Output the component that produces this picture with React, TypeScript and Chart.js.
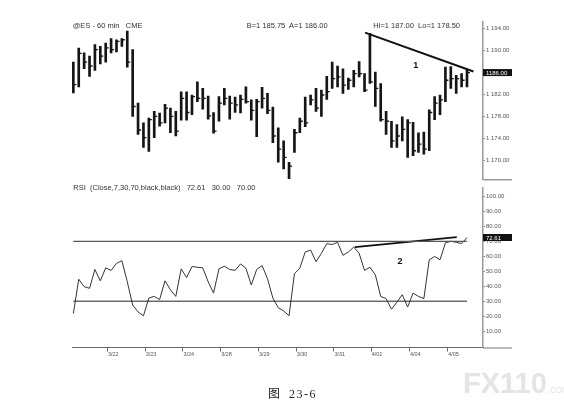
import React, { useEffect, useRef } from "react";
import { Chart, registerables } from "chart.js";
Chart.register(...registerables);

// ---- data (60-min ES bars, index 0..73) ----
const HIGHS = [
  1187.9, 1190.5, 1189.6, 1189.0, 1191.1, 1190.8, 1191.4, 1192.2, 1192.0, 1192.2,
  1193.6, 1190.2, 1180.4, 1176.8, 1177.7, 1178.9, 1178.6, 1180.2, 1179.5, 1178.9,
  1182.5, 1182.5, 1181.9, 1184.3, 1183.1, 1181.7, 1178.7, 1181.6, 1183.1, 1181.7,
  1181.5, 1181.9, 1183.4, 1181.0, 1181.1, 1183.3, 1182.2, 1179.7, 1175.9, 1173.5,
  1169.6, 1175.6, 1177.7, 1181.5, 1181.9, 1183.1, 1182.8, 1185.3, 1187.9, 1187.2,
  1186.7, 1185.0, 1186.4, 1188.0, 1185.8, 1193.2, 1186.1, 1184.0, 1178.9, 1177.1,
  1176.5, 1177.9, 1177.4, 1176.9, 1175.0, 1175.1, 1179.2, 1181.6, 1181.9, 1187.0,
  1187.1, 1185.5, 1185.8, 1186.4,
];
const LOWS = [
  1182.3, 1183.4, 1186.7, 1185.3, 1186.4, 1187.6, 1187.9, 1189.6, 1189.8, 1190.8,
  1187.0, 1178.0, 1174.7, 1172.3, 1171.6, 1174.1, 1176.2, 1176.8, 1175.0, 1174.4,
  1177.3, 1177.3, 1178.3, 1180.7, 1179.3, 1177.5, 1174.9, 1177.1, 1180.1, 1177.5,
  1178.7, 1178.6, 1180.4, 1177.3, 1174.3, 1179.5, 1178.5, 1173.2, 1169.6, 1168.4,
  1166.6, 1171.4, 1175.0, 1176.1, 1180.1, 1178.9, 1178.0, 1181.1, 1183.1, 1183.4,
  1182.2, 1182.9, 1183.4, 1185.2, 1182.5, 1184.0, 1179.8, 1177.1, 1174.7, 1172.3,
  1172.3, 1173.5, 1170.5, 1170.8, 1171.4, 1171.1, 1171.7, 1177.4, 1178.3, 1180.7,
  1183.1, 1182.2, 1183.4, 1183.4,
];
const CLOSES = [
  1183.8, 1189.5, 1187.9, 1187.2, 1190.2, 1189.0, 1190.5, 1190.2, 1191.7, 1192.0,
  1187.9, 1179.8, 1175.5, 1174.1, 1177.4, 1178.0, 1176.8, 1179.5, 1178.0, 1175.3,
  1181.3, 1178.7, 1181.6, 1181.3, 1181.3, 1178.1, 1175.3, 1180.4, 1181.3, 1180.4,
  1180.1, 1181.1, 1180.7, 1179.1, 1180.7, 1181.3, 1179.1, 1174.4, 1172.0, 1170.5,
  1168.9, 1175.0, 1177.1, 1176.8, 1181.0, 1179.5, 1181.9, 1182.5, 1184.9, 1185.2,
  1183.7, 1184.6, 1185.8, 1185.8, 1182.8, 1184.3, 1183.1, 1177.4, 1177.1, 1173.5,
  1174.4, 1175.6, 1176.8, 1171.7, 1172.9, 1172.0, 1178.7, 1180.4, 1181.0, 1184.6,
  1184.9, 1184.9, 1184.6, 1186.0,
];
const RSI = [
  21.7, 44.7, 39.7, 38.6, 51.2, 43.6, 52.3, 50.6, 55.3, 57.1,
  43.0, 27.4, 22.8, 20.2, 32.1, 33.2, 31.1, 43.6, 37.6, 33.2,
  51.6, 45.8, 53.2, 52.7, 52.3, 43.0, 35.4, 51.6, 53.4, 51.2,
  50.6, 54.9, 52.1, 40.8, 51.2, 53.8, 45.1, 32.1, 25.6, 23.5,
  20.2, 48.4, 52.1, 62.9, 64.2, 56.4, 62.0, 68.5, 67.9, 69.4,
  60.7, 62.9, 66.2, 62.0, 50.6, 52.7, 47.7, 33.2, 31.7, 24.6,
  29.3, 34.3, 26.1, 35.4, 33.2, 31.7, 57.7, 59.9, 57.7, 69.0,
  70.1, 69.4, 68.5, 72.61,
];
const DAY_LABELS = ["3/22", "3/23", "3/24", "3/28", "3/29", "3/30", "3/31", "4/01", "4/04", "4/05"];
const DAY_TICKS = [6.3, 13.3, 20.3, 27.3, 34.3, 41.3, 48.3, 55.2, 62.3, 69.4];
const PRICE_TICKS = [1170, 1174, 1178, 1182, 1186, 1190, 1194];
const RSI_TICKS = [10, 20, 30, 40, 50, 60, 70, 80, 90, 100];
const RSI_LEVELS = [30, 70];
const TREND1_X = [54.1, 74.2];
const TREND1_Y = [1193.3, 1186.2];
const TREND2_X = [52.2, 71.1];
const TREND2_Y = [66.2, 72.9];
const LABEL1 = { text: "1", x: 63.5, y: 1187.25 };
const LABEL2 = { text: "2", x: 60.6, y: 56.6 };
const LAST_PRICE = 1186.0;
const LAST_RSI = 72.61;
const X_MIN = -0.25;
const X_MAX = 75.97;
const PRICE_MIN = 1166.41;
const PRICE_MAX = 1195.25;
const RSI_MIN = -1;
const RSI_MAX = 106;

const FONT = "Arial, 'Liberation Sans', sans-serif";
const AXIS_W = 81;

function fmtPrice(v: number): string {
  const s = v.toFixed(2);
  const [i, d] = s.split(".");
  return i.length > 3 ? i.slice(0, -3) + " " + i.slice(-3) + "." + d : s;
}

const idx = CLOSES.map((_, i) => i);

function yAxis(min: number, max: number, ticks: number[], fmt: (v: number) => string) {
  return {
    position: "right" as const,
    min,
    max,
    afterBuildTicks: (s: any) => {
      s.ticks = ticks.map((v) => ({ value: v }));
    },
    afterFit: (s: any) => {
      s.width = AXIS_W;
    },
    grid: { drawOnChartArea: false, drawTicks: true, tickLength: 2, color: "#777", lineWidth: 1 },
    border: { display: true, color: "#999", width: 1.5 },
    ticks: {
      color: "#555",
      padding: 1,
      font: { size: 6, family: FONT },
      callback: (v: any) => fmt(Number(v)),
    },
  };
}

function valueBox(ctx: CanvasRenderingContext2D, left: number, y: number, text: string) {
  ctx.fillStyle = "#111";
  ctx.fillRect(left, y - 3.5, 29, 7);
  ctx.fillStyle = "#fff";
  ctx.font = `6px ${FONT}`;
  ctx.textAlign = "left";
  ctx.textBaseline = "middle";
  ctx.fillText(text, left + 3, y + 0.5);
}

const pricePlugin = {
  id: "priceExtras",
  afterDraw(chart: any) {
    const { ctx, chartArea, scales } = chart;
    ctx.save();
    ctx.strokeStyle = "#999";
    ctx.lineWidth = 1.5;
    ctx.beginPath();
    ctx.moveTo(chartArea.right, chartArea.bottom);
    ctx.lineTo(chartArea.right + 29, chartArea.bottom);
    ctx.stroke();
    valueBox(ctx, chartArea.right, scales.y.getPixelForValue(LAST_PRICE), LAST_PRICE.toFixed(2));
    ctx.fillStyle = "#111";
    ctx.font = `bold 9px ${FONT}`;
    ctx.textAlign = "center";
    ctx.textBaseline = "middle";
    ctx.fillText(LABEL1.text, scales.x.getPixelForValue(LABEL1.x), scales.y.getPixelForValue(LABEL1.y));
    ctx.restore();
  },
};

const rsiPlugin = {
  id: "rsiExtras",
  afterDraw(chart: any) {
    const { ctx, chartArea, scales } = chart;
    ctx.save();
    ctx.strokeStyle = "#777";
    ctx.lineWidth = 1;
    ctx.beginPath();
    ctx.moveTo(chartArea.right, chartArea.bottom + 0.5);
    ctx.lineTo(chartArea.right + 29, chartArea.bottom + 0.5);
    ctx.stroke();
    valueBox(ctx, chartArea.right, scales.y.getPixelForValue(LAST_RSI), LAST_RSI.toFixed(2));
    ctx.fillStyle = "#111";
    ctx.font = `bold 9px ${FONT}`;
    ctx.textAlign = "center";
    ctx.textBaseline = "middle";
    ctx.fillText(LABEL2.text, scales.x.getPixelForValue(LABEL2.x), scales.y.getPixelForValue(LABEL2.y));
    ctx.restore();
  },
};

export default function App() {
  const priceRef = useRef<HTMLCanvasElement>(null);
  const rsiRef = useRef<HTMLCanvasElement>(null);

  useEffect(() => {
    document.body.style.margin = "0";
    const price = new Chart(priceRef.current as HTMLCanvasElement, {
      type: "bar",
      data: {
        datasets: [
          {
            type: "bar",
            data: idx.map((i) => ({ x: i, y: [LOWS[i], HIGHS[i]] })) as any,
            backgroundColor: "#151515",
            barThickness: 2,
            grouped: false,
          } as any,
          {
            type: "scatter",
            data: idx.map((i) => ({ x: i, y: CLOSES[i] })),
            pointStyle: "dash",
            pointRadius: 3,
            borderColor: "#151515",
            borderWidth: 1.3,
            showLine: false,
          } as any,
          {
            type: "line",
            data: TREND1_X.map((x, k) => ({ x, y: TREND1_Y[k] })),
            borderColor: "#111",
            borderWidth: 2,
            pointRadius: 0,
          } as any,
        ],
      },
      options: {
        animation: false,
        responsive: false,
        maintainAspectRatio: false,
        layout: { padding: { left: 72, right: 0, top: 22, bottom: 2 } },
        plugins: { legend: { display: false }, tooltip: { enabled: false } },
        scales: {
          x: { type: "linear", min: X_MIN, max: X_MAX, display: false, offset: false },
          y: yAxis(PRICE_MIN, PRICE_MAX, PRICE_TICKS, fmtPrice) as any,
        },
      },
      plugins: [pricePlugin],
    });

    const rsi = new Chart(rsiRef.current as HTMLCanvasElement, {
      type: "line",
      data: {
        datasets: [
          ...RSI_LEVELS.map((lv, k) => ({
            data: [
              { x: idx[0], y: lv },
              { x: idx[idx.length - 1], y: lv },
            ],
            borderColor: k === 0 ? "#222" : "#555",
            borderWidth: k === 0 ? 1 : 1.3,
            pointRadius: 0,
          })),
          {
            data: idx.map((i) => ({ x: i, y: RSI[i] })),
            borderColor: "#333",
            borderWidth: 1,
            pointRadius: 0,
            tension: 0,
          },
          {
            data: TREND2_X.map((x, k) => ({ x, y: TREND2_Y[k] })),
            borderColor: "#111",
            borderWidth: 1.8,
            pointRadius: 0,
          },
        ] as any,
      },
      options: {
        animation: false,
        responsive: false,
        maintainAspectRatio: false,
        layout: { padding: { left: 72, right: 0, top: 0, bottom: 40 } },
        plugins: { legend: { display: false }, tooltip: { enabled: false } },
        scales: {
          x: {
            type: "linear",
            min: X_MIN,
            max: X_MAX,
            offset: false,
            afterBuildTicks: (s: any) => {
              s.ticks = DAY_TICKS.map((v) => ({ value: v }));
            },
            afterFit: (s: any) => {
              s.height = 14.5;
            },
            grid: { drawOnChartArea: false, drawTicks: true, tickLength: 4, color: "#666" },
            border: { display: true, color: "#666", width: 1 },
            ticks: {
              autoSkip: false,
              maxRotation: 0,
              padding: 0,
              labelOffset: 6,
              color: "#555",
              font: { size: 5.5, family: FONT },
              callback: (v: any) => {
                const k = DAY_TICKS.indexOf(Number(v));
                return k >= 0 ? DAY_LABELS[k] : "";
              },
            },
          },
          y: yAxis(RSI_MIN, RSI_MAX, RSI_TICKS, (v) => v.toFixed(2)) as any,
        },
      },
      plugins: [rsiPlugin],
    });

    return () => {
      price.destroy();
      rsi.destroy();
    };
  }, []);

  const txt: React.CSSProperties = {
    position: "absolute",
    fontFamily: FONT,
    fontSize: 7.5,
    lineHeight: "8px",
    color: "#333",
    whiteSpace: "pre",
  };

  return (
    <div style={{ position: "relative", width: 564, height: 402, background: "#fff", overflow: "hidden" }}>
      <canvas ref={priceRef} width={564} height={185} style={{ position: "absolute", left: 0, top: 0 }} />
      <canvas ref={rsiRef} width={564} height={219} style={{ position: "absolute", left: 0, top: 183 }} />
      <div style={{ ...txt, left: 72.7, top: 21.7 }}>{"@ES - 60 min   CME"}</div>
      <div style={{ ...txt, left: 246.7, top: 21.7 }}>{"B=1 185.75  A=1 186.00"}</div>
      <div style={{ ...txt, left: 373.3, top: 21.7 }}>{"Hi=1 187.00  Lo=1 178.50"}</div>
      <div style={{ ...txt, left: 73.3, top: 184.3 }}>{"RSI  (Close,7,30,70,black,black)   72.61   30.00   70.00"}</div>
      <div
        style={{
          position: "absolute",
          left: 268,
          top: 385,
          fontFamily: "'Liberation Serif', 'Noto Sans CJK SC', serif",
          fontSize: 12,
          lineHeight: "16px",
          color: "#222",
          whiteSpace: "pre",
        }}
      >
        <span style={{ fontFamily: "'Noto Sans CJK SC', serif" }}>图</span>
        <span style={{ marginLeft: 9, letterSpacing: 1.5 }}>23-6</span>
      </div>
      <div
        style={{
          position: "absolute",
          left: 463,
          top: 368,
          fontFamily: FONT,
          fontWeight: "bold",
          fontSize: 29,
          lineHeight: "30px",
          color: "#e4e4e4",
          whiteSpace: "pre",
        }}
      >
        FX110<span style={{ fontSize: 11, fontWeight: "normal" }}>.com</span>
      </div>
    </div>
  );
}
